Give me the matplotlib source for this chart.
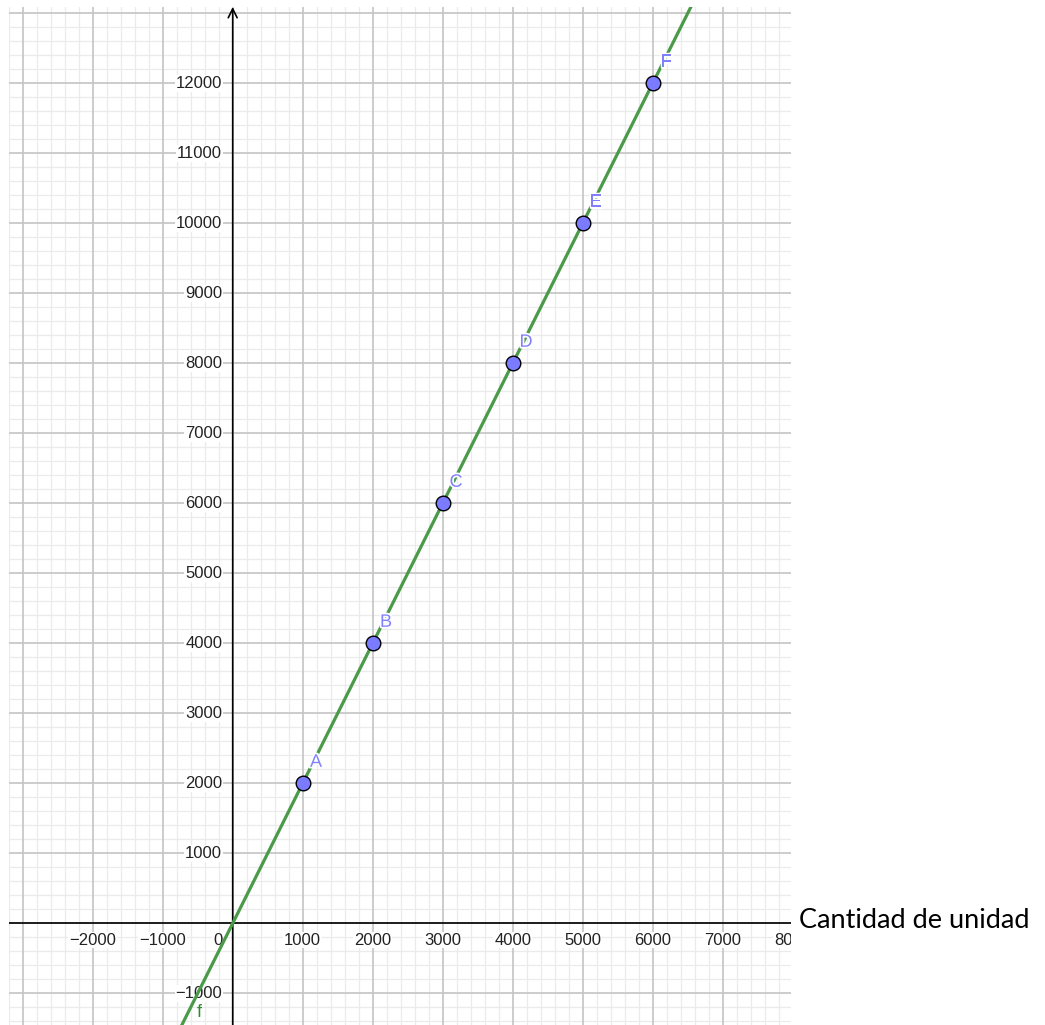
import numpy as np
import matplotlib.pyplot as plt
import matplotlib.patheffects as pe

# points on the line f
point_names = ['A', 'B', 'C', 'D', 'E', 'F']
point_x = [1000, 2000, 3000, 4000, 5000, 6000]
point_y = [2000, 4000, 6000, 8000, 10000, 12000]

# line f: y = 2x, drawn across the window
line_x = [-1000, 7000]
line_y = [-2000, 14000]

x_ticks = [-2000, -1000, 1000, 2000, 3000, 4000, 5000, 6000, 7000, 8000]
y_ticks = [-1000, 1000, 2000, 3000, 4000, 5000, 6000, 7000, 8000, 9000, 10000, 11000, 12000]

x_label = 'Cantidad de unidad'


def fmt(v):
    return ('\u2212' + str(-v)) if v < 0 else str(v)


def main():
    W, H = 1045, 1025
    fig = plt.figure(figsize=(W / 100, H / 100), dpi=100)
    # graphics view in pixels: x 9..791, y 7..1025
    ax = fig.add_axes([9 / W, 0, 782 / W, (H - 7) / H])
    ox, oy, s = 232.7, 923.3, 0.07  # origin px, px per unit
    xmin, xmax = (9 - ox) / s, (791 - ox) / s
    ymax, ymin = (oy - 7) / s, (oy - H) / s
    ax.set_xlim(xmin, xmax)
    ax.set_ylim(ymin, ymax)
    for sp in ax.spines.values():
        sp.set_visible(False)
    ax.set_xticks([])
    ax.set_yticks([])

    # grid
    for v in np.arange(-4000, 9001, 200):
        major = v % 1000 == 0
        ax.axvline(v, color='#c4c4c4' if major else '#ebebeb', lw=1.2 if major else 0.9, zorder=1 if major else 0)
    for v in np.arange(-2000, 14001, 200):
        major = v % 1000 == 0
        ax.axhline(v, color='#c4c4c4' if major else '#ebebeb', lw=1.2 if major else 0.9, zorder=1 if major else 0)

    # axes
    ax.axhline(0, color='black', lw=1.2, zorder=2)
    ax.annotate('', xy=(0, ymax), xytext=(0, ymin),
                arrowprops=dict(arrowstyle='->', lw=1.2, color='black', mutation_scale=16,
                                shrinkA=0, shrinkB=0), zorder=2)

    tick_font = dict(family='Liberation Sans', fontsize=12, color='#222222')
    box = dict(facecolor='white', edgecolor='none', pad=0.6)
    for v in x_ticks:
        ax.text(v, -240, fmt(v), ha='center', va='center', bbox=box, clip_on=True, zorder=3, **tick_font)
    for v in y_ticks:
        ax.text(-150, v, fmt(v), ha='right', va='center', bbox=box, clip_on=True, zorder=3, **tick_font)
    ax.text(-150, -240, '0', ha='right', va='center', bbox=box, zorder=3, **tick_font)

    # line f
    ax.plot(line_x, line_y, color='#4a9a4a', lw=2.3, zorder=4, solid_capstyle='butt')
    ax.text(-480, -1270, 'f', color='#2e8b2e', fontsize=13, family='Liberation Sans',
            ha='center', va='center', zorder=4)

    # points
    ax.plot(point_x, point_y, 'o', ms=10.5, mfc='#7b7bff', mec='black', mew=1.0, zorder=5)
    for n, px, py in zip(point_names, point_x, point_y):
        ax.text(px + 190, py + 300, n, color='#8080ff', fontsize=13, family='Liberation Sans',
                ha='center', va='center', zorder=5,
                path_effects=[pe.withStroke(linewidth=2.5, foreground='white')])

    fig.text(799 / W, 1 - 921 / H, x_label, family='Lato', fontsize=19.5,
             ha='left', va='center', color='black')

    fig.savefig('out.png', dpi=100, facecolor='white')


if __name__ == "__main__":
    main()
